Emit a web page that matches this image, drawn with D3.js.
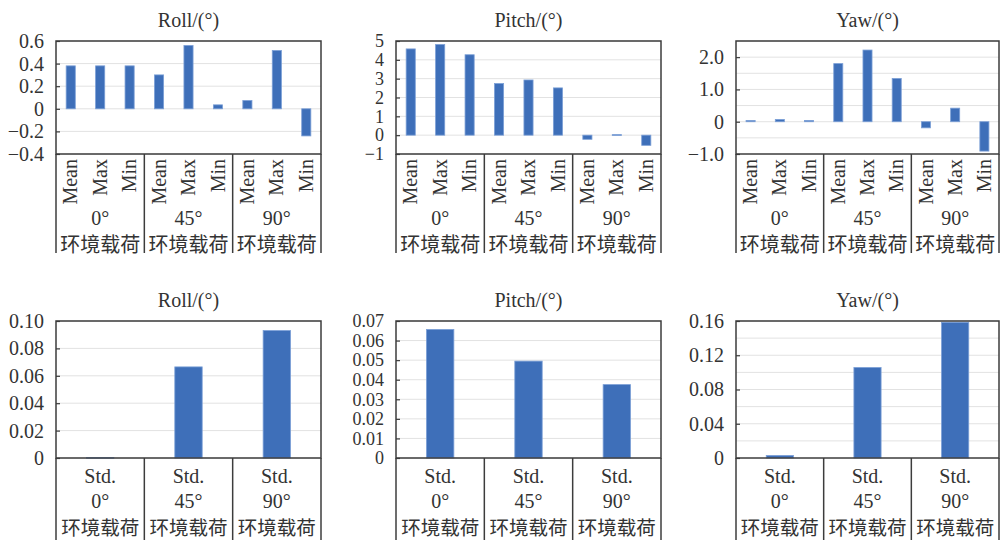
<!DOCTYPE html>
<html><head><meta charset="utf-8">
<script src="https://cdn.jsdelivr.net/npm/d3@7"></script>
<style>
html,body{margin:0;padding:0;background:#fff;}
svg{display:block;}
text{font-family:"Liberation Serif","Times New Roman","Noto Sans CJK SC",serif;fill:#333;}
text.cjk{font-family:"Noto Sans CJK SC",sans-serif;}
</style></head>
<body>
<svg id="c" width="1002" height="543"></svg>
<script>
// ---------- data ----------
const groups = ["0°", "45°", "90°"];
const groupSuffix = "环境载荷";
const stats = ["Mean", "Max", "Min"];
const stdLabel = "Std.";

const rollStats  = [0.38, 0.38, 0.38, 0.30, 0.56, 0.035, 0.073, 0.516, -0.24];
const pitchStats = [4.58, 4.81, 4.27, 2.74, 2.93, 2.51, -0.22, 0.03, -0.54];
const yawStats   = [0.04, 0.07, 0.04, 1.80, 2.22, 1.34, -0.19, 0.42, -0.91];

const rollStd  = [0.0004, 0.0665, 0.093];
const pitchStd = [0.0657, 0.0495, 0.0375];
const yawStd   = [0.003, 0.1057, 0.1585];

const rollTicks  = [-0.4, -0.2, 0, 0.2, 0.4, 0.6];
const rollTickLabels = ["−0.4", "−0.2", "0", "0.2", "0.4", "0.6"];
const pitchTicks = [-1, 0, 1, 2, 3, 4, 5];
const pitchTickLabels = ["−1", "0", "1", "2", "3", "4", "5"];
const yawTicks = [-1, 0, 1, 2];
const yawTickLabels = ["−1.0", "0", "1.0", "2.0"];
const yawGrid = [-0.5, 0, 0.5, 1, 1.5, 2, 2.5];

const rollStdTicks = [0, 0.02, 0.04, 0.06, 0.08, 0.10];
const rollStdTickLabels = ["0", "0.02", "0.04", "0.06", "0.08", "0.10"];
const pitchStdTicks = [0, 0.01, 0.02, 0.03, 0.04, 0.05, 0.06, 0.07];
const pitchStdTickLabels = ["0", "0.01", "0.02", "0.03", "0.04", "0.05", "0.06", "0.07"];
const yawStdTicks = [0, 0.04, 0.08, 0.12, 0.16];
const yawStdTickLabels = ["0", "0.04", "0.08", "0.12", "0.16"];
const yawStdGrid = [0.02, 0.04, 0.06, 0.08, 0.10, 0.12, 0.14, 0.16];

const titles = ["Roll/(°)", "Pitch/(°)", "Yaw/(°)"];

// ---------- layout ----------
const svg = d3.select("#c");
const BAR = "#3e6fb9", BAR_EDGE = "#7b9fd6", FRAME = "#3c3c3c", GRID = "#e2e2e2";
const cols = [[56, 321], [396, 661], [736, 999]];

const statCats = groups.flatMap(g => stats.map(s => g + "|" + s));
const stdCats = groups.map(g => g);

const panels = [
  {col:0, row:0, title:titles[0], values:rollStats, domain:[-0.4,0.6], ticks:rollTicks, labels:rollTickLabels, grid:rollTicks, fs:20},
  {col:1, row:0, title:titles[1], values:pitchStats, domain:[-1,5], ticks:pitchTicks, labels:pitchTickLabels, grid:pitchTicks, fs:18},
  {col:2, row:0, title:titles[2], values:yawStats, domain:[-1,2.5], ticks:yawTicks, labels:yawTickLabels, grid:yawGrid, fs:20},
  {col:0, row:1, title:titles[0], values:rollStd, domain:[0,0.10], ticks:rollStdTicks, labels:rollStdTickLabels, grid:rollStdTicks, fs:20},
  {col:1, row:1, title:titles[1], values:pitchStd, domain:[0,0.07], ticks:pitchStdTicks, labels:pitchStdTickLabels, grid:pitchStdTicks, fs:18},
  {col:2, row:1, title:titles[2], values:yawStd, domain:[0,0.16], ticks:yawStdTicks, labels:yawStdTickLabels, grid:yawStdGrid, fs:20}
];

const rows = [
  {top:41, bottom:154, labelBottom:253, titleY:27},
  {top:321, bottom:458, labelBottom:540, titleY:307}
];

panels.forEach(p => {
  const [x0, x1] = cols[p.col];
  const r = rows[p.row];
  const cats = p.row === 0 ? statCats : stdCats;
  const x = d3.scaleBand().domain(cats).range([x0, x1]).paddingInner(0.69).paddingOuter(0.345);
  const y = d3.scaleLinear().domain(p.domain).range([r.bottom, r.top]);
  const g = svg.append("g");

  // gridlines
  g.append("g").selectAll("line").data(p.grid).join("line")
    .attr("x1", x0).attr("x2", x1)
    .attr("y1", d => y(d)).attr("y2", d => y(d))
    .attr("stroke", GRID).attr("stroke-width", 1);

  // bars
  g.append("g").selectAll("rect").data(p.values).join("rect")
    .attr("x", (d, i) => x(cats[i]))
    .attr("width", x.bandwidth())
    .attr("y", d => Math.min(y(d), y(0)))
    .attr("height", d => Math.max(0.8, Math.abs(y(d) - y(0))))
    .attr("fill", BAR).attr("stroke", BAR_EDGE).attr("stroke-width", 0.8);

  // y axis
  const ax = d3.axisLeft(y).tickValues(p.ticks).tickSize(-4).tickPadding(12)
    .tickFormat((d, i) => p.labels[i]);
  const axg = g.append("g").attr("transform", `translate(${x0},0)`).call(ax);
  axg.attr("font-family", null).attr("font-size", null);
  axg.select(".domain").remove();
  axg.selectAll(".tick line").attr("stroke", FRAME).attr("stroke-width", 1.2);
  axg.selectAll(".tick text").attr("fill", null)
    .style("font-size", p.fs + "px")
    .style("font-family", '"Liberation Serif","Times New Roman",serif');

  // frame
  g.append("rect").attr("x", x0).attr("y", r.top).attr("width", x1 - x0).attr("height", r.bottom - r.top)
    .attr("fill", "none").attr("stroke", FRAME).attr("stroke-width", 1.5);

  // category dividers
  const gw = (x1 - x0) / groups.length;
  const divX = d3.range(groups.length + 1).map(i => x0 + i * gw);
  g.append("g").selectAll("line").data(divX).join("line")
    .attr("x1", d => d).attr("x2", d => d)
    .attr("y1", r.bottom).attr("y2", r.labelBottom)
    .attr("stroke", FRAME).attr("stroke-width", 1.5);

  // title
  g.append("text").attr("x", (x0 + x1) / 2).attr("y", r.titleY)
    .attr("text-anchor", "middle").attr("font-size", 20).text(p.title);

  if (p.row === 0) {
    g.append("g").selectAll("text").data(cats).join("text")
      .attr("transform", d => `translate(${x(d) + x.bandwidth() / 2},${r.bottom + 5}) rotate(-90)`)
      .attr("text-anchor", "end").attr("dy", "0.33em").attr("font-size", 20)
      .text(d => d.split("|")[1]);
    groups.forEach((gr, i) => {
      const cx = x0 + (i + 0.5) * gw;
      g.append("text").attr("x", cx).attr("y", 218).attr("dy", "0.35em")
        .attr("text-anchor", "middle").attr("font-size", 20).text(gr);
      g.append("text").attr("class", "cjk").attr("x", cx).attr("y", 245).attr("dy", "0.35em")
        .attr("text-anchor", "middle").attr("font-size", 20).text(groupSuffix);
    });
  } else {
    groups.forEach((gr, i) => {
      const cx = x(cats[i]) + x.bandwidth() / 2;
      g.append("text").attr("x", cx).attr("y", 476).attr("dy", "0.35em")
        .attr("text-anchor", "middle").attr("font-size", 20).text(stdLabel);
      g.append("text").attr("x", cx).attr("y", 501).attr("dy", "0.35em")
        .attr("text-anchor", "middle").attr("font-size", 20).text(gr);
      g.append("text").attr("class", "cjk").attr("x", cx).attr("y", 528).attr("dy", "0.35em")
        .attr("text-anchor", "middle").attr("font-size", 19.5).text(groupSuffix);
    });
  }
});
</script>
</body></html>
